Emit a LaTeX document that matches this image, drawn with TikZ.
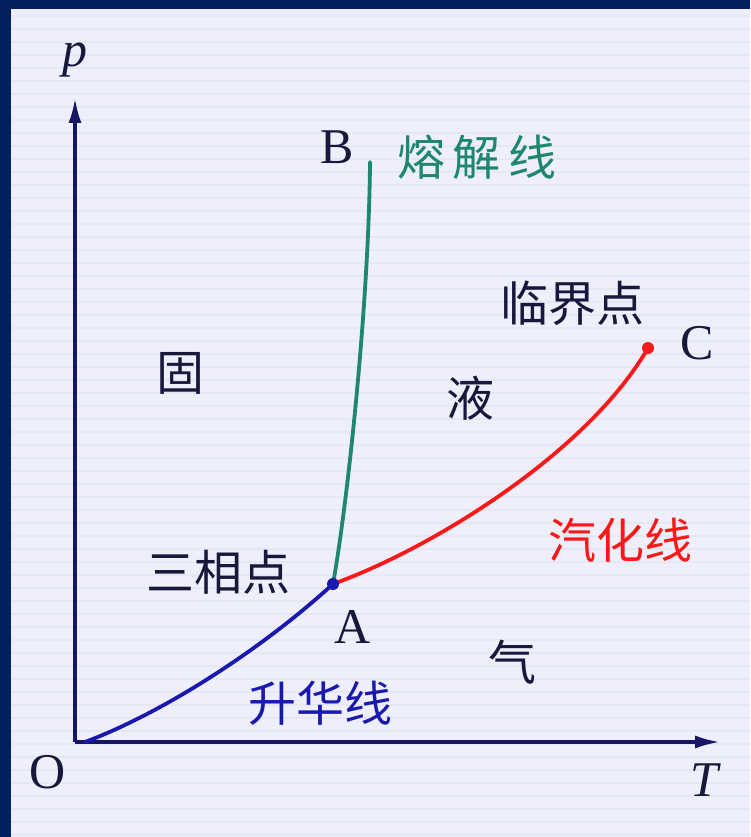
\documentclass[tikz,border=0pt]{standalone}
\usepackage{fontspec}
\setmainfont{Liberation Serif}
\newfontfamily\cjk{Noto Sans CJK SC}
\usetikzlibrary{arrows.meta}
\definecolor{navyb}{RGB}{2,32,96}
\definecolor{bgc}{RGB}{238,239,250}
\definecolor{stripe}{RGB}{229,231,242}
\definecolor{axisc}{RGB}{22,22,100}
\definecolor{txt}{RGB}{24,24,60}
\definecolor{tealc}{RGB}{30,135,110}
\definecolor{redc}{RGB}{250,25,25}
\definecolor{bluec}{RGB}{25,25,175}
\tikzset{
  lat/.style={font=\fontsize{50}{50}\selectfont, text=txt, inner sep=0pt},
  zh/.style={font=\cjk\fontsize{48}{48}\selectfont, text=txt, inner sep=0pt},
  axisline/.style={axisc, line width=4pt, -{Latex[length=26pt,width=13pt]}},
  curve/.style={line width=3.8pt, line cap=round}
}
\begin{document}
\begin{tikzpicture}[x=1pt,y=-1pt]
\useasboundingbox (0,0) rectangle (750,837);
\fill[navyb] (0,0) rectangle (750,837);
\fill[bgc] (11,9) rectangle (750,837);
\foreach \yy in {16,29,...,837} {\draw[stripe, line width=1.6pt] (11,\yy) -- (750,\yy);}
% axes
\coordinate (O) at (75,742);
\coordinate (ytop) at (75,97);
\coordinate (xend) at (721,742);
\draw[axisline] (O) -- (ytop);
\draw[axisline] (O) -- (xend);
% points
\coordinate (S) at (85,742);
\coordinate (A) at (333,584);
\coordinate (B) at (370,162);
\coordinate (C) at (648,348);
\draw[curve, bluec] (S) .. controls (165,712) and (263,648) .. (A);
\draw[curve, tealc] (A) .. controls (348,500) and (369,300) .. (B);
\draw[curve, redc] (A) .. controls (433,548) and (588,452) .. (C);
\fill[bluec] (A) circle (6pt);
\fill[redc] (C) circle (6pt);
% labels
\node[lat] (lp) at (75,60) {\textit{p}};
\node[lat] (lT) at (706,780) {\textit{T}};
\node[lat] (lO) at (48,772) {O};
\node[lat] (lB) at (337,147) {B};
\node[lat] (lC) at (697,343) {C};
\node[lat] (lA) at (353,627) {A};
\node[zh, text=tealc] (melt) at (477,157) {熔\,解\,线};
\node[zh] (crit) at (572,303) {临界点};
\node[zh] (solid) at (180,373) {固};
\node[zh] (liquid) at (470,398) {液};
\node[zh, text=redc] (vap) at (620,540) {汽化线};
\node[zh] (triple) at (218,572) {三相点};
\node[zh] (gas) at (512,662) {气};
\node[zh, text=bluec] (subl) at (320,703) {升华线};
\end{tikzpicture}
\end{document}
